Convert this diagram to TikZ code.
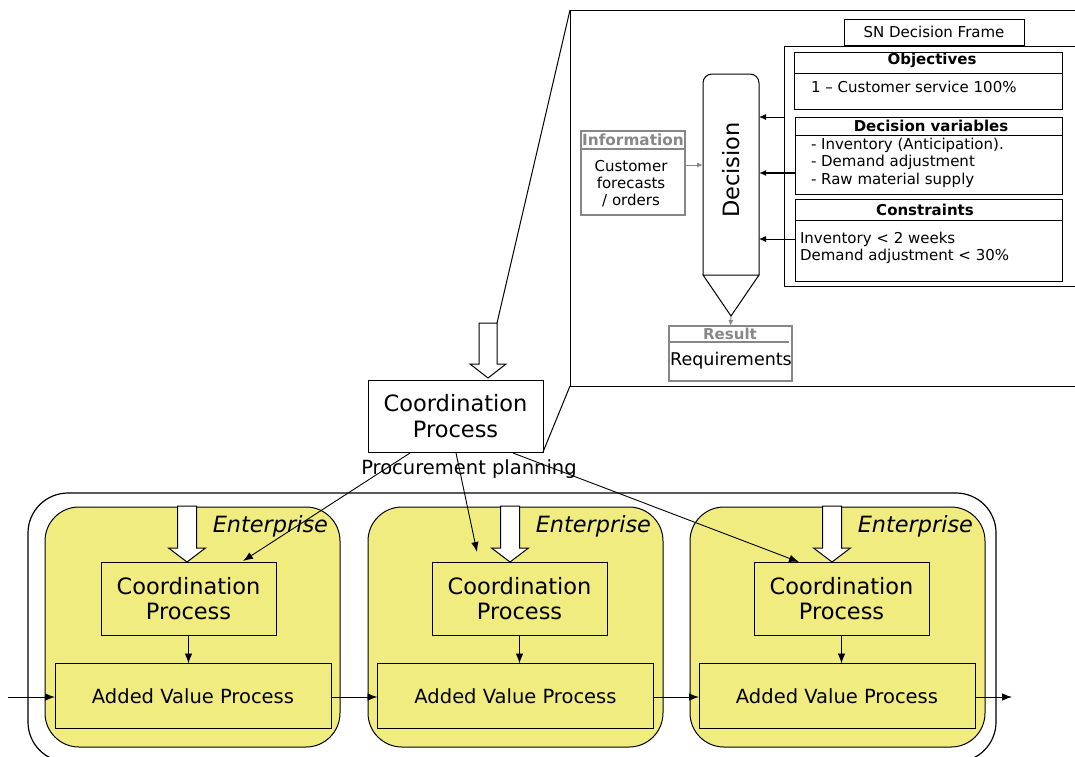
\documentclass[tikz,border=0pt]{standalone}
\usepackage{fontspec}
\setmainfont{DejaVu Sans}
\usetikzlibrary{arrows.meta}
\definecolor{ent}{RGB}{241,236,128}
\definecolor{gr}{RGB}{135,135,135}
\newcommand{\fs}[1]{\fontsize{#1}{#1}\selectfont}
\begin{document}
\begin{tikzpicture}[x=1pt,y=-1pt,
  box/.style={draw, line width=1pt, inner sep=0pt, outer sep=0pt},
  arr/.style={-{Latex[length=10pt,width=7.5pt]}, line width=0.9pt},
  garr/.style={-{Latex[length=6pt,width=5pt]}, line width=1pt, draw=gr},
  hollow/.style={draw, fill=white, line width=1pt, line join=miter},
  lbl/.style={inner sep=0pt, outer sep=0pt}]
\useasboundingbox (0,0) rectangle (1075,756);
\clip (0,0) rectangle (1075,756);

% ===== zoom frame =====
\coordinate (zTL) at (570,10);
\coordinate (zBL) at (570,386);
\draw[line width=1pt] (1080,10) -- (zTL) -- (zBL) -- (1080,386);

% SN decision frame
\node[box, minimum width=180pt, minimum height=26pt, font=\fs{15}] (snf) at (934,32) {SN Decision Frame};
\draw[line width=1pt] (1080,46) -- (784,46) -- (784,286) -- (1080,286);
\coordinate (fr1) at (784,117);

% Objectives
\node[box, minimum width=268pt, minimum height=57pt] (obj) at (928,80.5) {};
\draw[line width=1pt] (794,73) -- (1062,73);
\node[lbl, font=\bfseries\fs{15}] (objt) at (932,60) {Objectives};
\node[lbl, font=\fs{15}, anchor=west] (objb) at (811,87) {1 – Customer service 100\%};

% Decision variables
\node[box, minimum width=267pt, minimum height=77pt] (dv) at (928.5,155.5) {};
\draw[line width=1pt] (795,135) -- (1062,135);
\node[lbl, font=\bfseries\fs{15}] (dvt) at (931,126) {Decision variables};
\node[lbl, font=\fs{15}, anchor=west] (dv1) at (811,145) {- Inventory (Anticipation).};
\node[lbl, font=\fs{15}, anchor=west] (dv2) at (811,162.5) {- Demand adjustment};
\node[lbl, font=\fs{15}, anchor=west] (dv3) at (811,180) {- Raw material supply};

% Constraints
\node[box, minimum width=267pt, minimum height=82pt] (con) at (928.5,240) {};
\draw[line width=1pt] (795,220) -- (1062,220);
\node[lbl, font=\bfseries\fs{15}] (cont) at (925,210) {Constraints};
\node[lbl, font=\fs{15}, anchor=west] (con1) at (800,239) {Inventory < 2 weeks};
\node[lbl, font=\fs{15}, anchor=west] (con2) at (800,256) {Demand adjustment < 30\%};

% Decision pencil
\draw[line width=1pt, rounded corners=9pt] (703,275) -- (703,74) -- (759,74) -- (759,275);
\draw[line width=1pt] (703,275) -- (759,275) -- (731,316) -- cycle;
\coordinate (dtip) at (731,316);
\node[lbl, rotate=90, font=\fs{22.5}] (dec) at (731,170) {Decision};
\coordinate (d1) at (759,117);
\coordinate (d2) at (759,173);
\coordinate (d3) at (759,239);
\draw[line width=0.9pt, -{Latex[length=7pt,width=6pt]}] (fr1) -- (d1);
\draw[line width=1.8pt, -{Latex[length=7pt,width=6pt]}] (dv.west |- d2) -- (d2);
\draw[line width=0.9pt, -{Latex[length=7pt,width=6pt]}] (con.west |- d3) -- (d3);

% Information
\node[box, draw=gr, line width=1.4pt, minimum width=104pt, minimum height=84pt] (info) at (633,173) {};
\draw[gr, line width=1.4pt] (581,149) -- (685,149);
\node[lbl, font=\bfseries\fs{15.3}, text=gr] (infot) at (633,140) {Information};
\node[lbl, font=\fs{15}, align=center] (infob) at (631,183.5) {Customer\\[2pt]forecasts\\[2pt]/ orders};
\draw[garr] (info.east |- 0,165) -- (703,165);

% Result
\node[box, draw=gr, line width=1.4pt, minimum width=123pt, minimum height=55pt] (res) at (730.5,353.5) {};
\draw[gr, line width=1.4pt] (669,342) -- (789,342);
\node[lbl, font=\bfseries\fs{15}, text=gr] (rest) at (730,334) {Result};
\node[lbl, font=\fs{17.5}] (resb) at (731,361) {Requirements};
\draw[garr] (dtip) -- (res.north);

% ===== main coordination process =====
\node[box, minimum width=175pt, minimum height=72pt, align=center, font=\fs{22.5}] (cp) at (455.5,416) {Coordination\\[3pt]Process};
\node[lbl, font=\fs{19.5}] (pp) at (469,469) {Procurement planning};
\draw[hollow] (479,323) -- (497,323) -- (497,364) -- (506,364) -- (488,378) -- (470,364) -- (479,364) -- cycle;
\coordinate (ha) at (497,323);
\draw[line width=1pt] (zTL) -- (ha);
\draw[line width=1pt] (zBL) -- (cp.south east);

% ===== outer network box =====
\draw[line width=1.2pt, rounded corners=40pt] (28,493) rectangle (996,762);

% enterprises
\foreach \ex/\cx/\ax/\hx/\nm in {45/188.5/193/187/a, 368/519.5/515.5/510/b, 690/841.5/837/832/c}{
  \draw[fill=ent, line width=1pt, rounded corners=34pt] (\ex,507) rectangle ++(295,240);
  \node[lbl, font=\itshape\fs{22.4}, anchor=east] (ent\nm) at (\ex+283,526) {Enterprise};
  \node[box, fill=ent, minimum width=175pt, minimum height=73pt, align=center, font=\fs{22.5}] (cp\nm) at (\cx,598.5) {Coordination\\[3pt]Process};
  \node[box, fill=ent, minimum width=276pt, minimum height=65pt, font=\fs{19.5}] (av\nm) at (\ax,696) {Added Value Process};
  \draw[hollow] (\hx-9.5,506) -- (\hx+9.5,506) -- (\hx+9.5,548) -- (\hx+18.5,548) -- (\hx,562) -- (\hx-18.5,548) -- (\hx-9.5,548) -- cycle;
  \draw[arr] (cp\nm.south) -- (cp\nm.south |- av\nm.north);
}
% flows
\coordinate (fin) at (8,697);
\coordinate (fout) at (1012,697);
\draw[arr] (fin) -- (ava.west |- fin);
\draw[arr] (ava.east |- fin) -- (avb.west |- fin);
\draw[arr] (avb.east |- fin) -- (avc.west |- fin);
\draw[arr] (avc.east |- fin) -- (fout);

% procurement planning links
\coordinate (s1) at (410,453);
\coordinate (s2) at (456,453);
\coordinate (s3) at (513,453);
\coordinate (e1) at (243,561);
\coordinate (e2) at (477,552);
\coordinate (e3) at (799,562);
\draw[arr] (s1) -- (e1);
\draw[arr] (s2) -- (e2);
\draw[arr] (s3) -- (e3);
\end{tikzpicture}
\end{document}
